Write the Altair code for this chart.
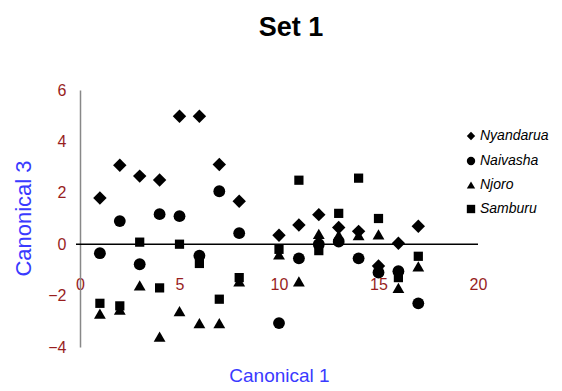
import altair as alt
import pandas as pd

# Data
x_pos = [1, 2, 3, 4, 5, 6, 7, 8, 10, 11, 12, 13, 14, 15, 16, 17]
nyandarua = [1.8, 3.07, 2.65, 2.5, 4.98, 4.98, 3.1, 1.67, 0.35, 0.75, 1.15, 0.65, 0.5, -0.85, 0.04, 0.7]
naivasha = [-0.35, 0.9, -0.78, 1.17, 1.09, -0.45, 2.06, 0.43, -3.07, -0.55, 0.0, 0.1, -0.55, -1.1, -1.05, -2.3]
njoro = [-2.7, -2.55, -1.6, -3.6, -2.6, -3.07, -3.07, -1.45, -0.4, -1.45, 0.4, 0.35, 0.35, 0.38, -1.7, -0.86]
samburu = [-2.3, -2.4, 0.08, -1.7, 0.0, -0.75, -2.14, -1.3, -0.2, 2.49, -0.25, 1.2, 2.57, 1.0, -1.3, -0.47]

groups = ["Nyandarua", "Naivasha", "Njoro", "Samburu"]
shapes = ["diamond", "circle", "triangle-up", "square"]
x_ticks = [0, 5, 10, 15, 20]
y_ticks = [-4, -2, 0, 2, 4, 6]

rows = []
for g, vals in zip(groups, [nyandarua, naivasha, njoro, samburu]):
    for xv, yv in zip(x_pos, vals):
        rows.append({"c1": xv, "c3": yv, "Group": g})
df = pd.DataFrame(rows)
zero_df = pd.DataFrame({"y0": [0]})

FONT = "Liberation Sans"
RED = "#981e1e"
BLUE = "#3a3aff"

xscale = alt.Scale(domain=[0, 20], nice=False, zero=False)
yscale = alt.Scale(domain=[-4, 6], nice=False, zero=False)

size_rule = (
    alt.when(alt.datum.Group == "Nyandarua").then(alt.value(180))
    .when(alt.datum.Group == "Samburu").then(alt.value(85))
    .otherwise(alt.value(140))
)

points = alt.Chart(df).mark_point(filled=True, opacity=1, color="black").encode(
    x=alt.X("c1:Q", scale=xscale, axis=alt.Axis(
        values=x_ticks, title="Canonical 1", grid=False, domain=False, ticks=False,
        offset=-72, labelPadding=1, labelFlush=False, labelColor=RED, labelFontSize=16,
        labelFont=FONT, titleColor=BLUE, titleFontSize=19, titleFont=FONT,
        titleFontWeight="normal", titleX=199, titleY=100, titleBaseline="middle",
        titleAlign="center")),
    y=alt.Y("c3:Q", scale=yscale, axis=alt.Axis(
        values=y_ticks, title="Canonical 3", grid=False, ticks=False, labelFlush=False,
        domainColor="#888888", domainWidth=1.5, labelPadding=14,
        labelColor=RED, labelFontSize=16, labelFont=FONT,
        titleColor=BLUE, titleFontSize=22, titleFont=FONT, titleFontWeight="normal",
        titleX=-57, titleY=128, titleAngle=-90, titleBaseline="middle", titleAlign="center")),
    shape=alt.Shape("Group:N", scale=alt.Scale(domain=groups, range=shapes),
                    legend=alt.Legend(title=None, orient="none", legendX=384, legendY=39,
                                      labelFontStyle="italic", labelFontSize=14, labelFont=FONT,
                                      labelColor="black", symbolSize=70, symbolFillColor="black",
                                      symbolStrokeColor="black", symbolOpacity=1,
                                      rowPadding=9, padding=0, labelOffset=2)),
    size=size_rule,
)

zero_line = alt.Chart(zero_df).mark_rule(color="black", strokeWidth=1.5).encode(
    y=alt.Y("y0:Q", scale=yscale),
    x=alt.value(-4),
    x2=alt.value(398),
)

chart = alt.layer(zero_line, points).properties(
    width=398,
    height=257,
    background="white",
    title=alt.TitleParams("Set 1", fontSize=27, fontWeight="bold", font=FONT, color="black",
                          anchor="middle", dx=12, offset=40),
    autosize=alt.AutoSizeParams(type="none"),
    padding={"left": 72, "top": 82, "right": 76, "bottom": 40},
).configure_view(strokeWidth=0, stroke="transparent")

chart.save("out.html", embed_options={"renderer": "svg", "actions": False})
